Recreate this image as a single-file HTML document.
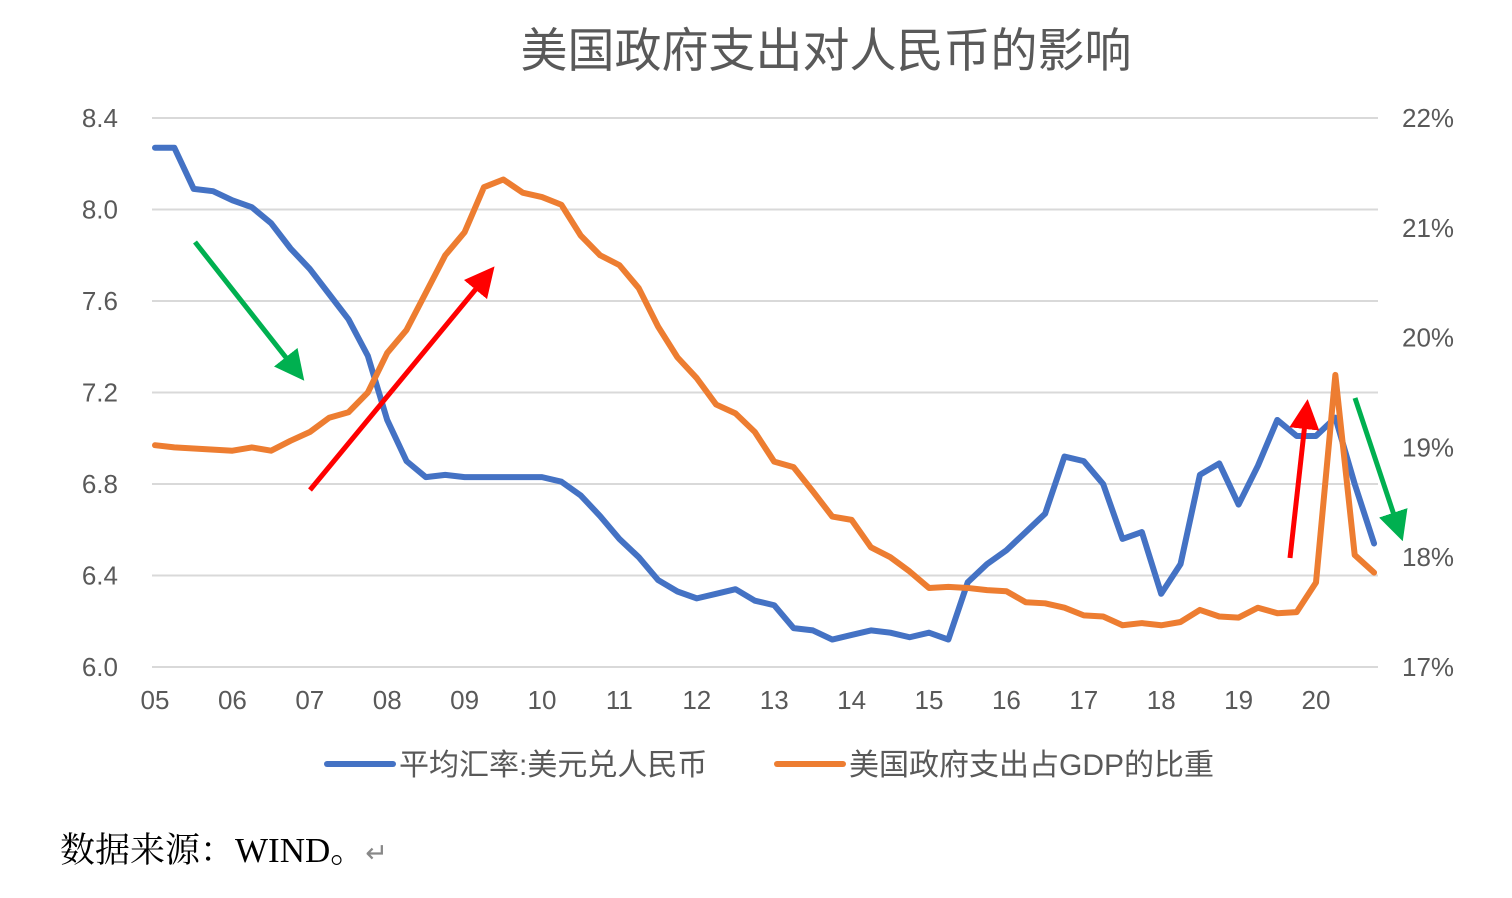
<!DOCTYPE html>
<html><head><meta charset="utf-8"><style>
body{margin:0;background:#fff;width:1512px;height:893px;overflow:hidden;font-family:"Liberation Sans","Noto Sans CJK SC",sans-serif}
</style></head><body>
<svg id="chart" width="1512" height="893" xmlns="http://www.w3.org/2000/svg">
<defs>
<marker id="ahR" markerWidth="6" markerHeight="6" refX="3" refY="3" orient="auto" markerUnits="strokeWidth"><path d="M0,0 L6,3 L0,6 z" fill="#ff0000"/></marker>
<marker id="ahG" markerWidth="6" markerHeight="6" refX="3" refY="3" orient="auto" markerUnits="strokeWidth"><path d="M0,0 L6,3 L0,6 z" fill="#00b050"/></marker>
</defs>
<text x="826" y="67" text-anchor="middle" font-size="47" fill="#595959" font-family="Liberation Sans, Noto Sans CJK SC, sans-serif">美国政府支出对人民币的影响</text>
<g id="grid"></g><g id="axes"></g><g id="series"></g>
<line x1="195" y1="242" x2="295" y2="369" stroke="#00b050" stroke-width="5" marker-end="url(#ahG)"/>
<line x1="310" y1="490" x2="485" y2="278" stroke="#ff0000" stroke-width="5" marker-end="url(#ahR)"/>
<line x1="1290" y1="558" x2="1306" y2="414" stroke="#ff0000" stroke-width="5" marker-end="url(#ahR)"/>
<line x1="1355" y1="398" x2="1398" y2="527" stroke="#00b050" stroke-width="5" marker-end="url(#ahG)"/>
<g>
<line x1="327" y1="764" x2="393" y2="764" stroke="#4472c4" stroke-width="6" stroke-linecap="round"/>
<text x="399" y="775" font-size="30" fill="#595959">平均汇率:美元兑人民币</text>
<line x1="777" y1="764" x2="843" y2="764" stroke="#ed7d31" stroke-width="6" stroke-linecap="round"/>
<text x="849" y="775" font-size="30" fill="#595959">美国政府支出占GDP的比重</text>
</g>
<text x="60" y="862" font-size="35" fill="#000" font-family="Liberation Serif, Noto Serif CJK SC, serif">数据来源：WIND。<tspan fill="#888" font-size="27">↵</tspan></text>
</svg>
<script>
const rate=[8.27,8.27,8.09,8.08,8.04,8.01,7.94,7.83,7.74,7.63,7.52,7.36,7.08,6.90,6.83,6.84,6.83,6.83,6.83,6.83,6.83,6.81,6.75,6.66,6.56,6.48,6.38,6.33,6.30,6.32,6.34,6.29,6.27,6.17,6.16,6.12,6.14,6.16,6.15,6.13,6.15,6.12,6.37,6.45,6.51,6.59,6.67,6.92,6.90,6.80,6.56,6.59,6.32,6.45,6.84,6.89,6.71,6.88,7.08,7.01,7.01,7.09,6.80,6.54];
const spending=[19.02,19.00,18.99,18.98,18.97,19.00,18.97,19.06,19.14,19.27,19.32,19.50,19.86,20.07,20.41,20.75,20.96,21.37,21.44,21.32,21.28,21.21,20.93,20.75,20.66,20.45,20.10,19.82,19.63,19.39,19.31,19.14,18.87,18.82,18.60,18.37,18.34,18.09,18.00,17.87,17.72,17.73,17.72,17.70,17.69,17.59,17.58,17.54,17.47,17.46,17.38,17.40,17.38,17.41,17.52,17.46,17.45,17.54,17.49,17.50,17.77,19.66,18.02,17.86];
const leftTicks=["6.0","6.4","6.8","7.2","7.6","8.0","8.4"];
const rightTicks=["17%","18%","19%","20%","21%","22%"];
const yearLabels=["05","06","07","08","09","10","11","12","13","14","15","16","17","18","19","20"];
const NS="http://www.w3.org/2000/svg";
const X0=155,QW=19.35,YT=118,YB=667;
const xq=i=>X0+i*QW;
const yL=v=>YB-(v-6.0)/2.4*(YB-YT);
const yR=v=>YB-(v-17)/5*(YB-YT);
function mk(tag,attrs,parent){const e=document.createElementNS(NS,tag);for(const k in attrs)e.setAttribute(k,attrs[k]);parent.appendChild(e);return e;}
const grid=document.getElementById('grid'),axes=document.getElementById('axes'),series=document.getElementById('series');
leftTicks.forEach(t=>{const y=yL(parseFloat(t));
 const g=mk('line',{x1:152,x2:1378,y1:y,y2:y,stroke:'#d9d9d9','stroke-width':2},grid);
 
 
 const tx=mk('text',{x:118,y:y+9,'text-anchor':'end','font-size':26,fill:'#595959'},axes);tx.textContent=t;
 
 
});
rightTicks.forEach(t=>{const y=yR(parseFloat(t));
 const tx=mk('text',{x:1402,y:y+9,'font-size':26,fill:'#595959'},axes);tx.textContent=t;
 
 
});
yearLabels.forEach((t,i)=>{
 const tx=mk('text',{x:xq(i*4),y:709,'text-anchor':'middle','font-size':26,fill:'#595959'},axes);tx.textContent=t;
 
 
});
function line(arr,fy,color,name){
 const p=mk('polyline',{points:arr.map((v,i)=>xq(i)+','+fy(v)).join(' '),fill:'none',stroke:color,'stroke-width':6,'stroke-linejoin':'round','stroke-linecap':'round'},series);
 
 
}
line(rate,yL,'#4472c4','series-exchange-rate');
line(spending,yR,'#ed7d31','series-gov-spending');
</script>
</body></html>
